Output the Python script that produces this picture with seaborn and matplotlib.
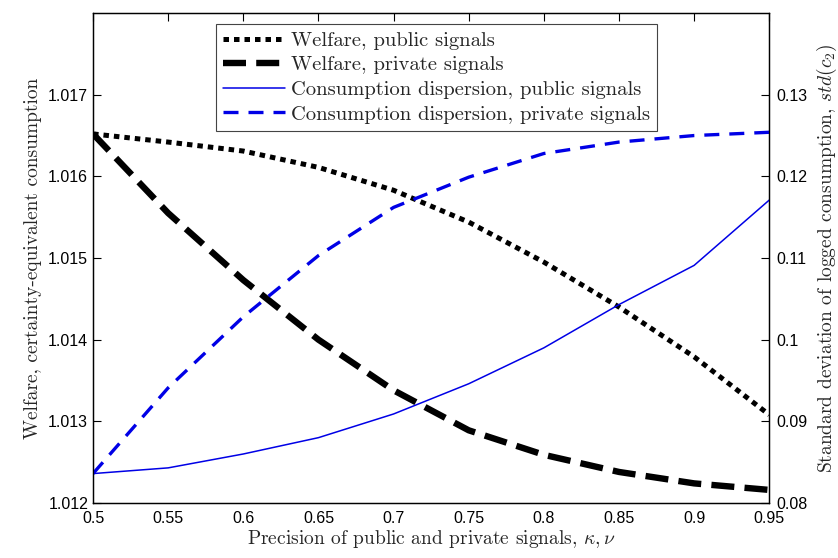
import matplotlib
matplotlib.use("Agg")
import matplotlib.pyplot as plt
import seaborn as sns
import pandas as pd

# ---- data ----
precision = [0.5, 0.55, 0.6, 0.65, 0.7, 0.75, 0.8, 0.85, 0.9, 0.95]
welfare_public = [1.01652, 1.01642, 1.01631, 1.01611, 1.01583, 1.01544, 1.01495, 1.01440, 1.01379, 1.01308]
welfare_private = [1.01652, 1.01555, 1.01473, 1.01400, 1.01338, 1.01289, 1.01259, 1.01238, 1.01224, 1.01216]
disp_public = [0.0836, 0.0843, 0.0860, 0.0880, 0.0909, 0.0946, 0.0990, 0.1043, 0.1091, 0.1171]
disp_private = [0.0836, 0.0941, 0.1028, 0.1103, 0.1162, 0.1199, 0.1228, 0.1242, 0.1250, 0.1254]

x_ticks = [0.5, 0.55, 0.6, 0.65, 0.7, 0.75, 0.8, 0.85, 0.9, 0.95]
x_ticklabels = ["0.5", "0.55", "0.6", "0.65", "0.7", "0.75", "0.8", "0.85", "0.9", "0.95"]
yl_ticks = [1.012, 1.013, 1.014, 1.015, 1.016, 1.017]
yl_ticklabels = ["1.012", "1.013", "1.014", "1.015", "1.016", "1.017"]
yr_ticks = [0.08, 0.09, 0.10, 0.11, 0.12, 0.13]
yr_ticklabels = ["0.08", "0.09", "0.1", "0.11", "0.12", "0.13"]

labels = ["Welfare, public signals", "Welfare, private signals",
          "Consumption dispersion, public signals", "Consumption dispersion, private signals"]

df = pd.DataFrame({"x": precision, "wpub": welfare_public, "wpriv": welfare_private,
                   "dpub": disp_public, "dpriv": disp_private})

sns.set_theme(style="white")
plt.rcParams["mathtext.fontset"] = "cm"
serif = ["cmr10", "DejaVu Serif"]
tickfont = "Liberation Sans"

fig = plt.figure(figsize=(8.38, 5.58), dpi=100)
ax = fig.add_axes([0.111, 0.0986, 0.807, 0.878])
ax2 = ax.twinx()

blue = (0.0, 0.0, 0.9)
sns.lineplot(data=df, x="x", y="wpub", ax=ax, color="black", linewidth=3.6,
             linestyle=(0, (1.1, 1.0)), dash_capstyle="butt", legend=False)
sns.lineplot(data=df, x="x", y="wpriv", ax=ax, color="black", linewidth=4.6,
             linestyle=(0, (3.6, 1.6)), dash_capstyle="butt", legend=False)
sns.lineplot(data=df, x="x", y="dpub", ax=ax2, color=blue, linewidth=1.1,
             linestyle="-", legend=False)
sns.lineplot(data=df, x="x", y="dpriv", ax=ax2, color=blue, linewidth=2.4,
             linestyle=(0, (4.5, 3.0)), dash_capstyle="butt", legend=False)

ax.set_xlim(0.5, 0.95)
ax.set_ylim(1.012, 1.018)
ax2.set_ylim(0.08, 0.14)

ax.set_xticks(x_ticks)
ax.set_xticklabels(x_ticklabels, fontfamily=tickfont, fontsize=11.5)
ax.set_yticks(yl_ticks)
ax.set_yticklabels(yl_ticklabels, fontfamily=tickfont, fontsize=11.5)
ax2.set_yticks(yr_ticks)
ax2.set_yticklabels(yr_ticklabels, fontfamily=tickfont, fontsize=11.5)

ax.tick_params(axis="both", direction="in", length=6, width=0.8, colors="black", top=True, right=False)
ax.tick_params(axis="x", pad=6)
ax2.tick_params(axis="y", direction="in", length=6, width=0.8, colors="black", pad=5)

for a in (ax, ax2):
    for s in a.spines.values():
        s.set_color("black")
        s.set_linewidth(0.9)

ax.set_xlabel(r"Precision of public and private signals, $\kappa,\nu$", fontfamily=serif, fontsize=14, labelpad=1)
ax.set_ylabel("Welfare, certainty-equivalent consumption", fontfamily=serif, fontsize=14, labelpad=4)
ax2.set_ylabel(r"Standard deviation of logged consumption, $std(c_2)$", fontfamily=serif, fontsize=14, labelpad=5)

handles = ax.get_lines() + ax2.get_lines()
leg = ax.legend(handles, labels, loc="upper left", bbox_to_anchor=(0.182, 0.977),
                prop={"family": serif, "size": 14.8}, frameon=True, fancybox=False,
                framealpha=1, edgecolor="#444444", handlelength=3.0, handletextpad=0.3,
                borderpad=0.35, labelspacing=0.3, borderaxespad=0)
leg.get_frame().set_linewidth(0.8)

fig.savefig("out.png", dpi=100)
